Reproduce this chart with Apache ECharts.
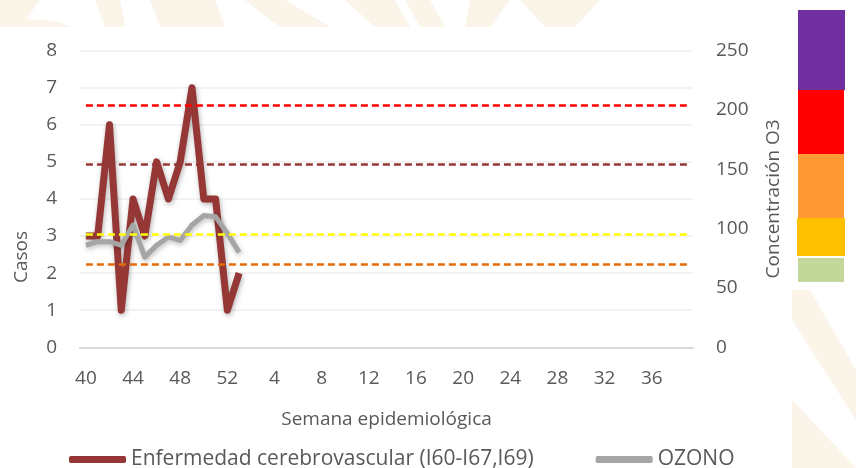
<!DOCTYPE html>
<html>
<head>
<meta charset="utf-8">
<script src="https://cdn.jsdelivr.net/npm/echarts@6/dist/echarts.min.js"></script>
<style>
html,body{margin:0;padding:0;background:#fff;}
#c{width:856px;height:468px;}
</style>
</head>
<body>
<div id="c"></div>
<script>
// Semanas epidemiológicas (40-52, luego 1-39)
var weeks = [40,41,42,43,44,45,46,47,48,49,50,51,52,
  1,2,3,4,5,6,7,8,9,10,11,12,13,14,15,16,17,18,19,20,
  21,22,23,24,25,26,27,28,29,30,31,32,33,34,35,36,37,38,39];
var casos = [3,3,6,1,4,3,5,4,5,7,4,4,1,2];
var ozono = [86,89,89,86,103,76,86,93,90,103,111,110,96,80];
var umbrales = [204,154,95,70];
var umbralColores = ['#ff0000','#953735','#ffff00','#e46c0a'];
var leftTicks = {min:0,max:8,interval:1};
var rightTicks = {min:0,max:250,interval:50};
var escala = [
  {color:'#7030a0'},{color:'#ff0000'},{color:'#ff9933'},{color:'#ffc000'},{color:'#c4d79b'}
];

var FONT = '"Open Sans", sans-serif';
var TXT = '#595959';

var chart = echarts.init(document.getElementById('c'), null, {renderer:'canvas'});

var lastIdx = weeks.length - 1;
var markData = umbrales.map(function(v,i){
  return [
    {coord:[0, v], lineStyle:{color:umbralColores[i], type:[7,4], width:2.5}},
    {coord:[lastIdx, v]}
  ];
});

var bg = '#fbf4e8';
var graphics = [
  // watermark hints (top strip)
  {type:'polygon', z:-100, shape:{points:[[0,0],[40,0],[20,27],[0,27]]}, style:{fill:bg}},
  {type:'polygon', z:-100, shape:{points:[[0,16],[60,22],[70,27],[0,27]]}, style:{fill:bg}},
  {type:'polygon', z:-100, shape:{points:[[95,0],[120,0],[125,27],[105,27]]}, style:{fill:bg}},
  {type:'polygon', z:-100, shape:{points:[[150,0],[215,0],[225,27],[160,27]]}, style:{fill:bg}},
  {type:'polygon', z:-100, shape:{points:[[245,0],[285,0],[330,27],[280,27]]}, style:{fill:bg}},
  {type:'polygon', z:-100, shape:{points:[[345,0],[395,0],[410,27],[375,27]]}, style:{fill:bg}},
  {type:'polygon', z:-100, shape:{points:[[405,0],[430,0],[445,27],[420,27]]}, style:{fill:bg}},
  {type:'polygon', z:-100, shape:{points:[[470,0],[510,0],[490,27],[465,27]]}, style:{fill:bg}},
  {type:'polygon', z:-100, shape:{points:[[520,0],[600,0],[575,27],[545,27]]}, style:{fill:bg}},
  // right strip
  {type:'polygon', z:-100, shape:{points:[[792,290],[810,290],[856,370],[856,420],[792,320]]}, style:{fill:bg}},
  {type:'polygon', z:-100, shape:{points:[[792,400],[856,468],[792,468]]}, style:{fill:bg}},
  // white chart area
  {type:'rect', z:-90, shape:{x:0,y:27,width:792,height:441}, style:{fill:'#ffffff'}},
  // colour scale boxes
  {type:'rect', z:1, shape:{x:798,y:10,width:47,height:80}, style:{fill:escala[0].color}},
  {type:'rect', z:1, shape:{x:798,y:90,width:46,height:64}, style:{fill:escala[1].color}},
  {type:'rect', z:1, shape:{x:798,y:154,width:46,height:64}, style:{fill:escala[2].color}},
  {type:'rect', z:1, shape:{x:797,y:218,width:48,height:38}, style:{fill:escala[3].color}},
  {type:'rect', z:1, shape:{x:798,y:258,width:46,height:24}, style:{fill:escala[4].color}}
];

var option = {
  backgroundColor:'#ffffff',
  animation:false,
  textStyle:{fontFamily:FONT},
  graphic:{elements:graphics},
  grid:{left:80, right:163, top:50.6, bottom:120.7, containLabel:false},
  legend:{
    left:64, top:444,
    itemWidth:57, itemHeight:7, itemGap:62, itemTextGap:3,
    icon:'roundRect',
    textStyle:{fontFamily:FONT, fontSize:21, color:TXT},
    data:['Enfermedad cerebrovascular (I60-I67,I69)','OZONO']
  },
  xAxis:{
    type:'category',
    data:weeks,
    boundaryGap:true,
    name:'Semana epidemiológica',
    nameLocation:'middle',
    nameGap:63,
    nameTextStyle:{fontFamily:FONT, fontSize:19, color:TXT},
    axisLine:{lineStyle:{color:'#d9d9d9', width:2}},
    axisTick:{show:false},
    axisLabel:{
      interval:function(i){return i % 4 === 0 && i <= 48;},
      fontFamily:FONT, fontSize:19, color:TXT, margin:22
    },
    splitLine:{show:false}
  },
  yAxis:[
    {
      type:'value', min:leftTicks.min, max:leftTicks.max, interval:leftTicks.interval,
      position:'left',
      name:'Casos', nameLocation:'middle', nameRotate:90, nameGap:49,
      nameTextStyle:{fontFamily:FONT, fontSize:19, color:TXT, padding:[0,116,0,0]},
      axisLine:{show:false}, axisTick:{show:false},
      axisLabel:{fontFamily:FONT, fontSize:19, color:TXT, margin:23},
      splitLine:{lineStyle:{color:'#efefef', width:1.5}}
    },
    {
      type:'value', min:rightTicks.min, max:rightTicks.max, interval:rightTicks.interval,
      position:'right',
      name:'Concentración O3', nameLocation:'middle', nameRotate:90, nameGap:71,
      nameTextStyle:{fontFamily:FONT, fontSize:19, color:TXT},
      axisLine:{show:false}, axisTick:{show:false},
      axisLabel:{fontFamily:FONT, fontSize:19, color:TXT, margin:23},
      splitLine:{show:false}
    }
  ],
  series:[
    {
      name:'Enfermedad cerebrovascular (I60-I67,I69)',
      type:'line', yAxisIndex:0, data:casos,
      symbol:'none', color:'#953735',
      lineStyle:{width:7, color:'#953735', join:'round',
        shadowColor:'rgba(0,0,0,0.3)', shadowBlur:5, shadowOffsetY:2, shadowOffsetX:1},
      z:3
    },
    {
      name:'OZONO',
      type:'line', yAxisIndex:1, data:ozono,
      symbol:'none', color:'#a5a5a5',
      lineStyle:{width:5, color:'#a5a5a5', join:'round',
        shadowColor:'rgba(0,0,0,0.25)', shadowBlur:5, shadowOffsetY:2, shadowOffsetX:1},
      markLine:{
        silent:true, symbol:['none','none'],
        label:{show:false},
        data:markData
      },
      z:4
    }
  ]
};
chart.setOption(option);
</script>
</body>
</html>
